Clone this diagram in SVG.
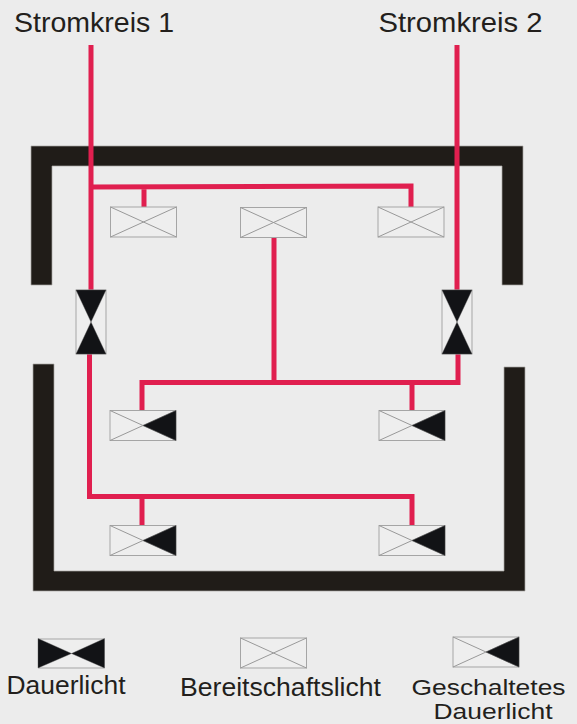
<svg xmlns="http://www.w3.org/2000/svg" width="577" height="724" viewBox="0 0 577 724">
<style>
.wall{fill:#201c18;stroke:#a9a7a5;stroke-width:.7}
.w{fill:none;stroke:#e01f4f;stroke-width:5;stroke-linejoin:miter}
.box{fill:#eeeeee;stroke:#a5a5a5;stroke-width:1}
.x{stroke:#999;stroke-width:1;fill:none}
.k{fill:#121316;stroke:#555;stroke-width:.4}
text{font-family:"Liberation Sans",Arial,sans-serif;fill:#231f1c}
.t{font-size:28px}
.l{font-size:26px}
.s{font-size:22px}
</style>
<defs>
<g id="b"><rect class="box" x="-33" y="-15" width="66" height="30"/><path class="x" d="M-33-15L33 15M-33 15L33-15"/></g>
<g id="g"><use href="#b"/><path class="k" d="M33-15V15L0 0Z"/></g>
<g id="d"><rect class="box" x="-15" y="-32" width="30" height="64"/><path class="k" d="M-15-32H15L0 0L15 32H-15L0 0Z"/></g>
</defs>
<rect width="577" height="724" fill="#ececec"/>
<g id="walls">
<path class="wall" d="M31 285V146H523V285H502V166H52V285Z"/>
<path class="wall" d="M33 364H54V571H504V367H525V591H33Z"/>
</g>
<g id="connectors">
<path class="w" d="M91 45V290"/>
<path class="w" d="M91 187L411 186V208M144 187V207"/>
<path class="w" d="M457 45V290"/>
<path class="w" d="M274 238V382"/>
<path class="w" d="M142 410V382.500H458V354M412 382V411"/>
<path class="w" d="M89.500 354V496.500H412V525M142 497V525"/>
</g>
<g id="n1"><use href="#b" x="143.500" y="222"/></g>
<g id="n2"><use href="#b" x="273.500" y="222.500"/></g>
<g id="n3"><use href="#b" x="411" y="222"/></g>
<g id="n4"><use href="#d" x="91" y="322"/></g>
<g id="n5"><use href="#d" x="457" y="322"/></g>
<g id="n6"><use href="#g" x="143" y="425.500"/></g>
<g id="n7"><use href="#g" x="412" y="425.500"/></g>
<g id="n8"><use href="#g" x="143" y="540.500"/></g>
<g id="n9"><use href="#g" x="412" y="540.500"/></g>
<g id="legend1"><rect class="box" x="39" y="639" width="65" height="29"/><path class="k" d="M38 638.500L71.500 653.500L104.500 638.500V668L71.500 653.500L38 668Z"/><text class="l" x="66" y="694" text-anchor="middle" textLength="119" lengthAdjust="spacingAndGlyphs">Dauerlicht</text></g>
<g id="legend2"><use href="#b" x="273.500" y="653"/><text class="l" x="280.500" y="696" text-anchor="middle" textLength="201" lengthAdjust="spacingAndGlyphs">Bereitschaftslicht</text></g>
<g id="legend3"><use href="#g" x="486" y="652"/><text class="s" x="488.500" y="694.500" text-anchor="middle" textLength="154" lengthAdjust="spacingAndGlyphs">Geschaltetes</text><text class="s" x="493" y="719" text-anchor="middle" textLength="119" lengthAdjust="spacingAndGlyphs">Dauerlicht</text></g>
<g id="labels"><text class="t" x="94" y="32" text-anchor="middle" textLength="160" lengthAdjust="spacingAndGlyphs">Stromkreis 1</text><text class="t" x="460.500" y="32" text-anchor="middle" textLength="164" lengthAdjust="spacingAndGlyphs">Stromkreis 2</text></g>
</svg>
